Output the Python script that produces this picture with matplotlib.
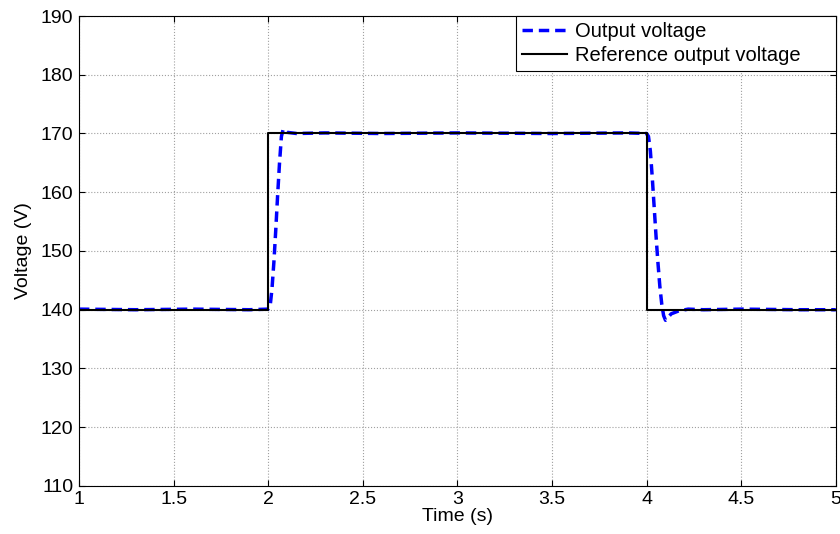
import matplotlib.pyplot as plt
import numpy as np

plt.rcParams['font.family'] = ['Liberation Sans', 'DejaVu Sans']

# reference step profile
t_ref = [1.0, 2.0, 2.0, 4.0, 4.0, 5.0]
v_ref = [140, 140, 170, 170, 140, 140]

# measured output voltage
t_out = [1.0, 1.3, 1.6, 1.9, 2.0, 2.01, 2.02, 2.03, 2.04, 2.05, 2.06, 2.07, 2.08,
         2.1, 2.15, 2.3, 2.6, 3.0, 3.5, 3.9, 4.0, 4.01, 4.02, 4.03, 4.04, 4.05,
         4.06, 4.07, 4.08, 4.09, 4.1, 4.13, 4.17, 4.22, 4.3, 4.5, 4.8, 5.0]
v_out = [140.1, 140.0, 140.1, 140.0, 140.1, 140.5, 143.5, 148.0, 153.5, 159.5, 165.0, 169.5, 170.8,
         170.2, 170.0, 170.1, 170.0, 170.1, 170.0, 170.1, 170.0, 169.5, 167.0, 162.5, 157.5, 152.5,
         148.0, 144.0, 141.0, 139.0, 138.2, 139.3, 139.8, 140.1, 140.0, 140.1, 140.0, 140.0]

fig = plt.figure(figsize=(8.4, 5.34), dpi=100)
ax = fig.add_axes([0.094, 0.090, 0.901, 0.880])

ax.plot(t_out, v_out, '--', color='blue', linewidth=2.5, dashes=(3, 1.7), label='Output voltage')
ax.plot(t_ref, v_ref, '-', color='black', linewidth=1.5, label='Reference output voltage')

ax.set_xlim(1, 5)
ax.set_ylim(110, 190)
ax.set_xticks(np.arange(1, 5.01, 0.5))
ax.set_xticklabels(['1', '1.5', '2', '2.5', '3', '3.5', '4', '4.5', '5'])
ax.set_yticks(np.arange(110, 191, 10))
ax.tick_params(direction='in', labelsize=14, length=4, top=True, right=True, pad=4)
ax.grid(True, color='#a0a0a0', linestyle=':', linewidth=0.8)
for s in ax.spines.values():
    s.set_linewidth(0.8)

ax.set_xlabel('Time (s)', fontsize=14, labelpad=0)
ax.set_ylabel('Voltage (V)', fontsize=14, labelpad=6)

# legend box stretched to a fixed width in the top-right corner
leg = ax.legend(loc='upper right', bbox_to_anchor=(0.578, 0, 0.422, 1), mode='expand',
                fontsize=14.5, fancybox=False, framealpha=1,
                edgecolor='black', borderaxespad=0, handlelength=2.2,
                borderpad=0.3, labelspacing=0.25, handletextpad=0.4)
leg.get_frame().set_linewidth(0.8)

fig.savefig('out.png', dpi=100)
